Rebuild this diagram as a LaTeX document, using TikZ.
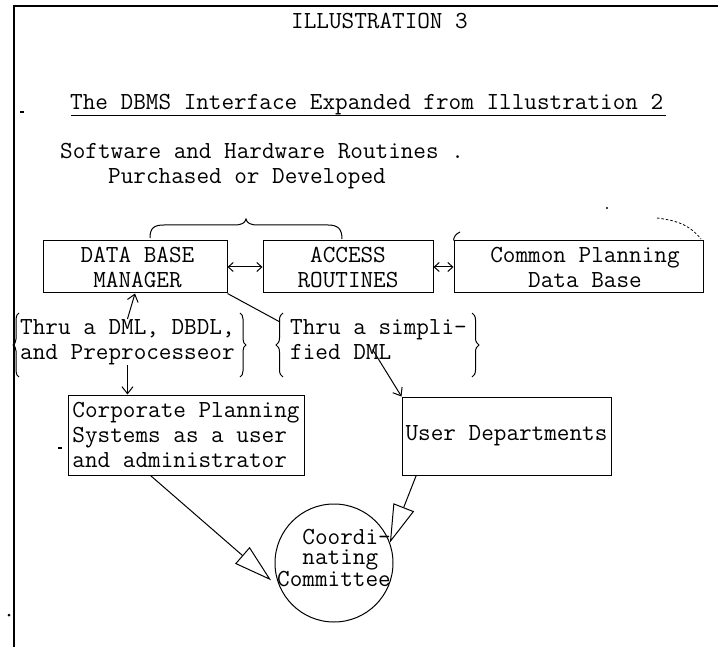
\documentclass[tikz,border=0pt]{standalone}
\usetikzlibrary{arrows.meta,decorations.pathreplacing,calc}
\begin{document}
\begin{tikzpicture}[x=1pt,y=-1pt,
  typed/.style={font=\fontsize{24.5}{25}\selectfont\ttfamily, inner sep=0pt},
  boxnode/.style={typed, draw, line width=1pt, align=center},
  conn/.style={line width=1pt, -{Straight Barb[length=7pt,width=11pt]}},
  dconn/.style={line width=1pt, {Straight Barb[length=5pt,width=9pt]}-{Straight Barb[length=5pt,width=9pt]}},
  hollow/.style={line width=1pt, -{Triangle[open,length=38pt,width=22pt]}},
  brc/.style={line width=1pt, decorate, decoration={brace, amplitude=#1}},
  thinline/.style={line width=1pt}]
\useasboundingbox (0,0) rectangle (718,647);
% frame
\draw[line width=1.2pt] (14,647) -- (14,6) -- (718,6);
% headings
\node[typed, anchor=base west] (ill) at (291,29) {ILLUSTRATION 3};
\node[typed, anchor=base west] (title) at (70,110) {The DBMS Interface Expanded from Illustration 2};
\draw[thinline] ([xshift=1pt]title.south west) -- ([xshift=3pt]title.south east);
\node[typed, anchor=base west] (sw) at (60,159) {Software and Hardware Routines .};
\node[typed, anchor=base west] (pd) at (108,184) {Purchased or Developed};
% top brace
\draw[thinline] (150,238) .. controls (150,228) and (154,225) .. (164,225) -- (234,225)
  .. controls (242,225) and (245,223) .. (246,219) .. controls (247,223) and (250,225) .. (258,225)
  -- (328,225) .. controls (338,225) and (342,229) .. (342,239);
% top row boxes
\node[boxnode, minimum width=184pt, minimum height=52pt] (dbm) at (135,267) {\hspace*{5pt}DATA BASE\\\hspace*{5pt}MANAGER};
\node[boxnode, minimum width=170pt, minimum height=52pt] (acc) at (348,267) {ACCESS\\ROUTINES};
\node[boxnode, minimum width=249pt, minimum height=52pt] (cpdb) at (578.5,267) {\hspace*{13pt}Common Planning\\\hspace*{13pt}Data Base};
\draw[thinline] (cpdb.north west) .. controls (454,236) and (456,234) .. (460,232);
\draw[dconn] (dbm.east) -- (acc.west);
\draw[dconn] (acc.east) -- (cpdb.west);
% artifacts near top right
\draw[line width=0.8pt, dash pattern=on 2.5pt off 2pt] (657,218) .. controls (682,221) and (692,228) .. (701,239);
\fill (607,208) circle (1.2pt);
% group texts
\node[typed, anchor=north west, align=left] (g1) at (20,319) {Thru a DML, DBDL,\\and Preprocesseor};
\draw[brc=6pt] (19,377) -- (19,313);
\draw[brc=6pt] (240,313) -- (240,377);
\node[typed, anchor=north west, align=left] (g2) at (290,319) {Thru a simpli-\\fied DML};
\draw[brc=7pt] (283,377) -- (283,313);
\draw[brc=7pt] (472,313) -- (472,377);
\coordinate (b2) at (280,322);
% lower boxes
\node[boxnode, align=left, minimum width=236pt, minimum height=80pt] (corp) at (186,435) {Corporate Planning\\Systems as a user\\and administrator};
\node[boxnode, minimum width=209pt, minimum height=78pt] (user) at (506.5,436) {User Departments};
% connectors
\draw[conn] (g1.north) -- (dbm.south);
\draw[conn] (g1.south) -- (g1.south |- corp.north);
\draw[thinline] (dbm.south east) -- (b2);
\draw[conn] ([shift={(-6pt,10pt)}]g2.south) -- (user.north west);
% committee
\node[draw, circle, line width=1pt, minimum size=118pt, inner sep=0pt] (cc) at (334,563) {};
\node[typed, align=left, font=\fontsize{24.5}{20.5}\selectfont\ttfamily] (cctext) at (334,558) {\phantom{Co}Coordi-\\\phantom{Co}nating\\Committee};
\draw[hollow, shorten >=12pt] ($(corp.south west)!0.35!(corp.south east)$) -- (cc.205);
\draw[hollow] ($(user.south west)!0.07!(user.south east)$) -- (cc.20);
% small scan marks
\fill (20,111.5) rectangle (24,113);
\fill (58,447) rectangle (62,449);
\fill (9,615) circle (1.5pt);
\end{tikzpicture}
\end{document}
